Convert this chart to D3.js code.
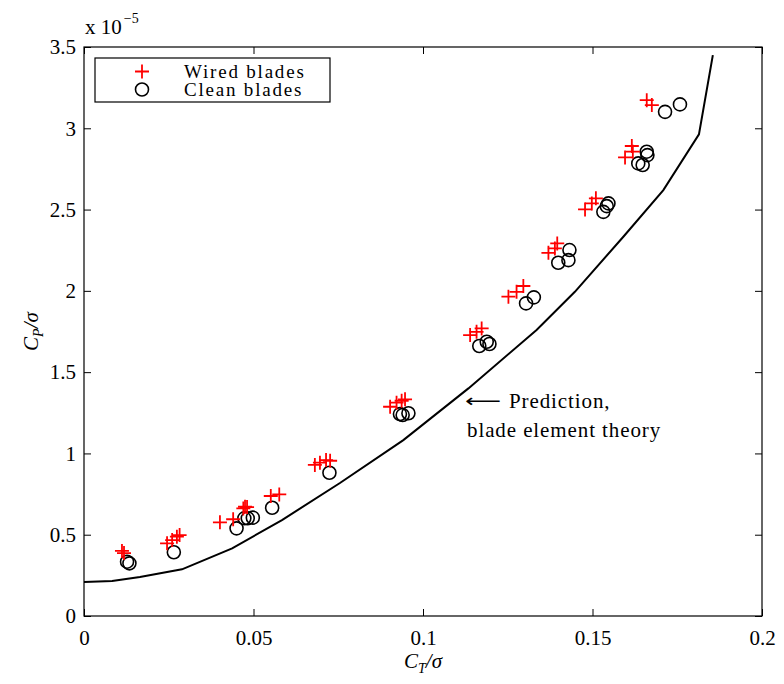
<!DOCTYPE html>
<html>
<head>
<meta charset="utf-8">
<script src="https://cdn.jsdelivr.net/npm/d3@7"></script>
<style>
  html, body { margin: 0; padding: 0; background: #fff; }
  svg { display: block; }
</style>
</head>
<body>
<svg id="chart" width="784" height="684"></svg>
<script>
// Wired blades: C_T/sigma and C_P/sigma (x 1e-5)
const wiredCT = [0.0112, 0.0118, 0.0245, 0.0260, 0.0274, 0.0282, 0.0401, 0.0440, 0.0470, 0.0475, 0.0481,
  0.0551, 0.0576, 0.0681, 0.0696, 0.0714, 0.0726, 0.0903, 0.0922, 0.0937, 0.0947,
  0.1139, 0.1158, 0.1173, 0.1252, 0.1276, 0.1296, 0.1370, 0.1389, 0.1396,
  0.1478, 0.1498, 0.1510, 0.1596, 0.1616, 0.1619, 0.1660, 0.1675];
const wiredCP = [0.400, 0.387, 0.447, 0.467, 0.488, 0.498, 0.576, 0.595, 0.662, 0.672, 0.670,
  0.738, 0.748, 0.929, 0.943, 0.959, 0.955, 1.287, 1.312, 1.324, 1.333,
  1.728, 1.748, 1.769, 1.964, 1.994, 2.030, 2.234, 2.261, 2.292,
  2.501, 2.538, 2.569, 2.821, 2.891, 2.856, 3.173, 3.143];

// Clean blades
const cleanCT = [0.0127, 0.0134, 0.0265, 0.0450, 0.0473, 0.0483, 0.0498, 0.0555, 0.0724,
  0.0932, 0.0940, 0.0957, 0.1166, 0.1188, 0.1196, 0.1304, 0.1327,
  0.1399, 0.1429, 0.1432, 0.1532, 0.1542, 0.1547, 0.1635, 0.1648, 0.1660, 0.1662,
  0.1714, 0.1758];
const cleanCP = [0.334, 0.324, 0.392, 0.539, 0.601, 0.601, 0.605, 0.666, 0.881,
  1.242, 1.236, 1.247, 1.661, 1.687, 1.673, 1.923, 1.960,
  2.173, 2.189, 2.251, 2.486, 2.521, 2.538, 2.784, 2.774, 2.856, 2.835,
  3.101, 3.147];

// Blade element theory prediction
const predCT = [0, 0.0083, 0.0165, 0.0289, 0.0437, 0.0584, 0.0755, 0.0942, 0.1134, 0.1335,
  0.1448, 0.1591, 0.1709, 0.1814, 0.1855];
const predCP = [0.209, 0.215, 0.240, 0.287, 0.416, 0.590, 0.818, 1.082, 1.400, 1.759,
  1.994, 2.333, 2.620, 2.963, 3.450];

const xTicks = [0, 0.05, 0.1, 0.15, 0.2];
const xTickLabels = ["0", "0.05", "0.1", "0.15", "0.2"];
const yTicks = [0, 0.5, 1, 1.5, 2, 2.5, 3, 3.5];
const yTickLabels = ["0", "0.5", "1", "1.5", "2", "2.5", "3", "3.5"];

const legendLabels = ["Wired blades", "Clean blades"];

(function draw() {
  const SERIF = "Liberation Serif, DejaVu Serif, Noto Serif, Nimbus Roman, FreeSerif, Tinos, Times New Roman, Times, serif";
  const svg = d3.select("#chart").style("font-family", SERIF);
  const pL = 84, pR = 762, pT = 47, pB = 616;
  const x = d3.scaleLinear().domain([0, 0.2]).range([pL, pR]);
  const y = d3.scaleLinear().domain([0, 3.5]).range([pB, pT]);
  const tickLen = 7;
  const fontSize = 21;

  // Axes box and inward ticks on all four sides
  svg.append("rect")
    .attr("x", pL).attr("y", pT)
    .attr("width", pR - pL).attr("height", pB - pT)
    .attr("fill", "none").attr("stroke", "#000").attr("stroke-width", 1.2);

  const ax = d3.axisBottom(x).tickValues(xTicks).tickFormat((d, i) => xTickLabels[i])
    .tickSizeInner(-tickLen).tickSizeOuter(0).tickPadding(14);
  const gx = svg.append("g").attr("transform", `translate(0,${pB})`).call(ax);
  const axTop = d3.axisTop(x).tickValues(xTicks).tickFormat("").tickSizeInner(-tickLen).tickSizeOuter(0);
  const gxt = svg.append("g").attr("transform", `translate(0,${pT})`).call(axTop);

  const ay = d3.axisLeft(y).tickValues(yTicks).tickFormat((d, i) => yTickLabels[i])
    .tickSizeInner(-tickLen).tickSizeOuter(0).tickPadding(14);
  const gy = svg.append("g").attr("transform", `translate(${pL},0)`).call(ay);
  const ayR = d3.axisRight(y).tickValues(yTicks).tickFormat("").tickSizeInner(-tickLen).tickSizeOuter(0);
  const gyr = svg.append("g").attr("transform", `translate(${pR},0)`).call(ayR);

  [gx, gxt, gy, gyr].forEach(g => {
    g.attr("font-family", null).attr("font-size", fontSize);
    g.select(".domain").remove();
    g.selectAll(".tick line").attr("stroke", "#000").attr("stroke-width", 1);
    g.selectAll(".tick text").attr("fill", "#000");
  });
  gx.selectAll(".tick text").attr("dy", "0.71em").attr("y", 14);
  gy.selectAll(".tick text").attr("x", -8);

  // Exponent label
  const expo = svg.append("text").attr("x", pL + 1).attr("y", 34).attr("font-size", fontSize);
  expo.append("tspan").text("x 10");
  expo.append("tspan").attr("font-size", 14).attr("dy", -11).attr("dx", 2).text("−5");

  // Axis titles
  const xl = svg.append("text").attr("x", x(0.1)).attr("y", 668)
    .attr("text-anchor", "middle").attr("font-size", fontSize).attr("font-style", "italic");
  xl.append("tspan").text("C");
  xl.append("tspan").attr("font-size", 14).attr("dy", 5).text("T");
  xl.append("tspan").attr("dy", -5).text("/σ");

  const yl = svg.append("text")
    .attr("transform", `translate(38,${y(1.75)}) rotate(-90)`)
    .attr("text-anchor", "middle").attr("font-size", fontSize).attr("font-style", "italic");
  yl.append("tspan").text("C");
  yl.append("tspan").attr("font-size", 14).attr("dy", 5).text("P");
  yl.append("tspan").attr("dy", -5).text("/σ");

  // Prediction curve
  const pred = predCT.map((d, i) => [d, predCP[i]]);
  svg.append("path").datum(pred)
    .attr("d", d3.line().x(d => x(d[0])).y(d => y(d[1])))
    .attr("fill", "none").attr("stroke", "#000").attr("stroke-width", 2);

  // Clean blades (circles)
  const clean = cleanCT.map((d, i) => [d, cleanCP[i]]);
  svg.append("g").selectAll("circle").data(clean).join("circle")
    .attr("cx", d => x(d[0])).attr("cy", d => y(d[1])).attr("r", 6.5)
    .attr("fill", "none").attr("stroke", "#000").attr("stroke-width", 1.6);

  // Wired blades (plus markers)
  const wired = wiredCT.map((d, i) => [d, wiredCP[i]]);
  const plusPath = s => `M${-s},0H${s}M0,${-s}V${s}`;
  svg.append("g").selectAll("path").data(wired).join("path")
    .attr("transform", d => `translate(${x(d[0])},${y(d[1])})`)
    .attr("d", plusPath(7))
    .attr("fill", "none").attr("stroke", "#ff0000").attr("stroke-width", 1.8);

  // Annotation for the prediction curve
  const annX = 465, annY = 401;
  svg.append("text").attr("x", annX).attr("y", annY + 6)
    .style("font-family", "DejaVu Sans, sans-serif").attr("font-size", 18)
    .attr("textLength", 36).attr("lengthAdjust", "spacingAndGlyphs")
    .text("⟵");
  svg.append("text").attr("x", annX + 44).attr("y", annY + 7)
    .attr("font-size", fontSize).attr("letter-spacing", 0.9).text("Prediction,");
  svg.append("text").attr("x", annX + 2).attr("y", annY + 36)
    .attr("font-size", fontSize).attr("letter-spacing", 0.9).text("blade element theory");

  // Legend
  const lg = svg.append("g");
  lg.append("rect").attr("x", 95).attr("y", 58).attr("width", 235).attr("height", 44)
    .attr("fill", "#fff").attr("stroke", "#000").attr("stroke-width", 1.2);
  lg.append("path").attr("transform", "translate(142,71.5)").attr("d", plusPath(7))
    .attr("stroke", "#ff0000").attr("stroke-width", 1.8).attr("fill", "none");
  lg.append("circle").attr("cx", 142).attr("cy", 89.5).attr("r", 6.5)
    .attr("fill", "none").attr("stroke", "#000").attr("stroke-width", 1.6);
  lg.selectAll("text.lab").data(legendLabels).join("text").attr("class", "lab")
    .attr("x", 184).attr("y", (d, i) => 78 + i * 18)
    .attr("font-size", 19).attr("letter-spacing", 1.8).text(d => d);
})();
</script>
</body>
</html>
